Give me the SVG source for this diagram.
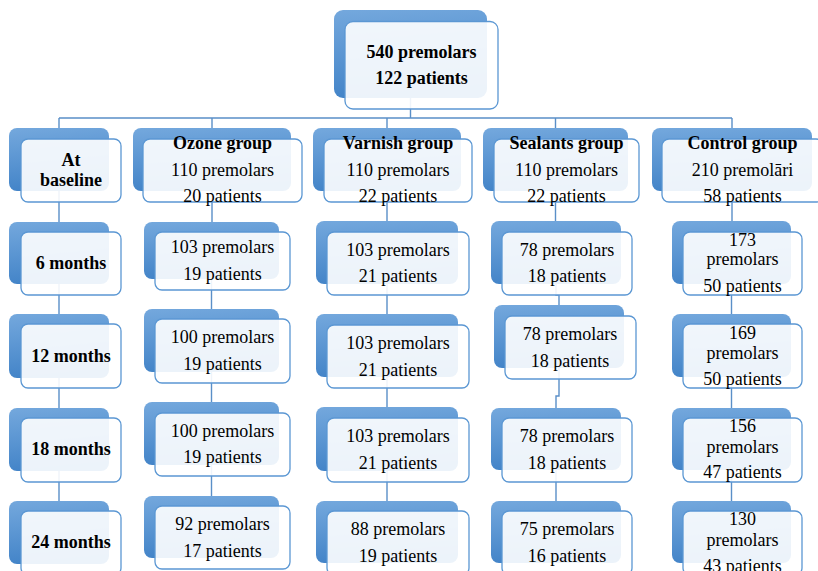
<svg xmlns="http://www.w3.org/2000/svg" width="818" height="571" viewBox="0 0 818 571">
<defs>
<linearGradient id="bg" x1="0" y1="0" x2="0.15" y2="1">
<stop offset="0" stop-color="#74a8dd"/>
<stop offset="1" stop-color="#4384c8"/>
</linearGradient>
</defs>
<style>
.back{fill:url(#bg);}
.front{fill:#ffffff;fill-opacity:0.9;stroke:#5b97d3;stroke-width:1.3;}
.conn{fill:none;stroke:#5a8fc8;stroke-width:1.4;}
text{font-family:"Liberation Serif","Times New Roman",serif;font-size:18px;fill:#000;text-anchor:middle;}
.b{font-weight:bold;}
</style>
<rect width="818" height="571" fill="#ffffff"/>
<g id="connectors">
<path class="conn" d="M410.5 98 V118 M59 118 H732 M59 118 V128 M212 118 V128 M387 118 V128 M555.5 118 V128 M732 118 V128"/>
<path class="conn" d="M59 191 V222 M59 284 V314 M59 378 V408 M59 471 V501"/>
<path class="conn" d="M212 191 V222 M211.5 279 V309 M211.5 372 V402 M211.5 465 V496"/>
<path class="conn" d="M387 191 V221 M387 284 V314 M387 377 V407 M387 471 V501"/>
<path class="conn" d="M555.5 191 V221 M556 284 V295 H559 V305 M559 368 V396 H556 V408 M556 470 V501"/>
<path class="conn" d="M732 191 V221 M731.5 284 V314 M731.5 377 V408 M731.5 470 V501"/>
</g>
<g id="root">
<rect class="back" x="334" y="10" width="153" height="88" rx="9"/>
<rect class="front" x="345" y="21.5" width="153" height="87.5" rx="8"/>
<text class="b" x="421.5" y="58">540 premolars</text>
<text class="b" x="421.5" y="84">122 patients</text>
</g>
<g id="baseline">
<rect class="back" x="9" y="128" width="100" height="63" rx="8"/>
<rect class="front" x="21" y="139" width="100" height="63" rx="7"/>
<text class="b" x="71" y="166">At</text>
<text class="b" x="71" y="186">baseline</text>
</g>
<g id="m6">
<rect class="back" x="9" y="222" width="100" height="62" rx="8"/>
<rect class="front" x="21" y="232" width="100" height="63" rx="7"/>
<text class="b" x="71" y="269">6 months</text>
</g>
<g id="m12">
<rect class="back" x="9" y="314" width="100" height="64" rx="8"/>
<rect class="front" x="21" y="324" width="100" height="64" rx="7"/>
<text class="b" x="71" y="362">12 months</text>
</g>
<g id="m18">
<rect class="back" x="9" y="408" width="100" height="63" rx="8"/>
<rect class="front" x="21" y="418" width="100" height="64" rx="7"/>
<text class="b" x="71" y="455">18 months</text>
</g>
<g id="m24">
<rect class="back" x="9" y="501" width="100" height="63" rx="8"/>
<rect class="front" x="21" y="511" width="100" height="64" rx="7"/>
<text class="b" x="71" y="548">24 months</text>
</g>
<g id="ozone">
<rect class="back" x="133" y="128" width="158" height="63" rx="8"/>
<rect class="front" x="143" y="139" width="159" height="63" rx="7"/>
<text class="b" x="222.5" y="149">Ozone group</text>
<text x="222.5" y="176">110 premolars</text>
<text x="222.5" y="202">20 patients</text>
</g>
<g id="ozone6">
<rect class="back" x="144" y="222" width="135" height="57" rx="8"/>
<rect class="front" x="155" y="232" width="135" height="58" rx="7"/>
<text x="222.5" y="253">103 premolars</text>
<text x="222.5" y="280">19 patients</text>
</g>
<g id="ozone12">
<rect class="back" x="144" y="309" width="135" height="63" rx="8"/>
<rect class="front" x="155" y="319" width="135" height="64" rx="7"/>
<text x="222.5" y="343">100 premolars</text>
<text x="222.5" y="370">19 patients</text>
</g>
<g id="ozone18">
<rect class="back" x="144" y="402" width="135" height="63" rx="8"/>
<rect class="front" x="155" y="413" width="135" height="63" rx="7"/>
<text x="222.5" y="437">100 premolars</text>
<text x="222.5" y="463">19 patients</text>
</g>
<g id="ozone24">
<rect class="back" x="144" y="496" width="135" height="62" rx="8"/>
<rect class="front" x="155" y="506" width="135" height="63" rx="7"/>
<text x="222.5" y="530">92 premolars</text>
<text x="222.5" y="557">17 patients</text>
</g>
<g id="varnish">
<rect class="back" x="313" y="128" width="148" height="63" rx="8"/>
<rect class="front" x="324" y="139" width="148" height="63" rx="7"/>
<text class="b" x="398" y="149">Varnish group</text>
<text x="398" y="176">110 premolars</text>
<text x="398" y="202">22 patients</text>
</g>
<g id="varnish6">
<rect class="back" x="316" y="221" width="142" height="63" rx="8"/>
<rect class="front" x="327" y="232" width="142" height="63" rx="7"/>
<text x="398" y="256">103 premolars</text>
<text x="398" y="282">21 patients</text>
</g>
<g id="varnish12">
<rect class="back" x="316" y="314" width="142" height="63" rx="8"/>
<rect class="front" x="327" y="325" width="142" height="63" rx="7"/>
<text x="398" y="349">103 premolars</text>
<text x="398" y="376">21 patients</text>
</g>
<g id="varnish18">
<rect class="back" x="316" y="407" width="142" height="64" rx="8"/>
<rect class="front" x="327" y="418" width="142" height="64" rx="7"/>
<text x="398" y="442">103 premolars</text>
<text x="398" y="469">21 patients</text>
</g>
<g id="varnish24">
<rect class="back" x="316" y="501" width="142" height="62" rx="8"/>
<rect class="front" x="327" y="511" width="142" height="64" rx="7"/>
<text x="398" y="535">88 premolars</text>
<text x="398" y="562">19 patients</text>
</g>
<g id="sealants">
<rect class="back" x="483" y="128" width="145" height="63" rx="8"/>
<rect class="front" x="494" y="139" width="145" height="63" rx="7"/>
<text class="b" x="566.5" y="149">Sealants group</text>
<text x="566.5" y="176">110 premolars</text>
<text x="566.5" y="202">22 patients</text>
</g>
<g id="sealants6">
<rect class="back" x="491" y="221" width="130" height="63" rx="8"/>
<rect class="front" x="502" y="232" width="130" height="63" rx="7"/>
<text x="567" y="256">78 premolars</text>
<text x="567" y="282">18 patients</text>
</g>
<g id="sealants12">
<rect class="back" x="494" y="305" width="130" height="63" rx="8"/>
<rect class="front" x="505" y="316" width="131" height="63" rx="7"/>
<text x="570" y="340">78 premolars</text>
<text x="570" y="367">18 patients</text>
</g>
<g id="sealants18">
<rect class="back" x="491" y="408" width="130" height="62" rx="8"/>
<rect class="front" x="502" y="418" width="130" height="64" rx="7"/>
<text x="567" y="442">78 premolars</text>
<text x="567" y="469">18 patients</text>
</g>
<g id="sealants24">
<rect class="back" x="491" y="501" width="130" height="62" rx="8"/>
<rect class="front" x="502" y="511" width="130" height="64" rx="7"/>
<text x="567" y="535">75 premolars</text>
<text x="567" y="562">16 patients</text>
</g>
<g id="control">
<rect class="back" x="652" y="128" width="160" height="63" rx="8"/>
<rect class="front" x="662" y="139" width="161" height="63" rx="7"/>
<text class="b" x="742.5" y="149">Control group</text>
<text x="742.5" y="176">210 premolāri</text>
<text x="742.5" y="202">58 patients</text>
</g>
<g id="control6">
<rect class="back" x="672" y="221" width="119" height="63" rx="8"/>
<rect class="front" x="683" y="232" width="119" height="63" rx="7"/>
<text x="742.5" y="246">173</text>
<text x="742.5" y="265">premolars</text>
<text x="742.5" y="292">50 patients</text>
</g>
<g id="control12">
<rect class="back" x="672" y="314" width="119" height="63" rx="8"/>
<rect class="front" x="683" y="324" width="119" height="64" rx="7"/>
<text x="742.5" y="339">169</text>
<text x="742.5" y="359">premolars</text>
<text x="742.5" y="385">50 patients</text>
</g>
<g id="control18">
<rect class="back" x="672" y="408" width="119" height="62" rx="8"/>
<rect class="front" x="683" y="418" width="119" height="64" rx="7"/>
<text x="742.5" y="432">156</text>
<text x="742.5" y="453">premolars</text>
<text x="742.5" y="478">47 patients</text>
</g>
<g id="control24">
<rect class="back" x="672" y="501" width="119" height="62" rx="8"/>
<rect class="front" x="683" y="511" width="119" height="64" rx="7"/>
<text x="742.5" y="525">130</text>
<text x="742.5" y="546">premolars</text>
<text x="742.5" y="572">43 patients</text>
</g>
</svg>
